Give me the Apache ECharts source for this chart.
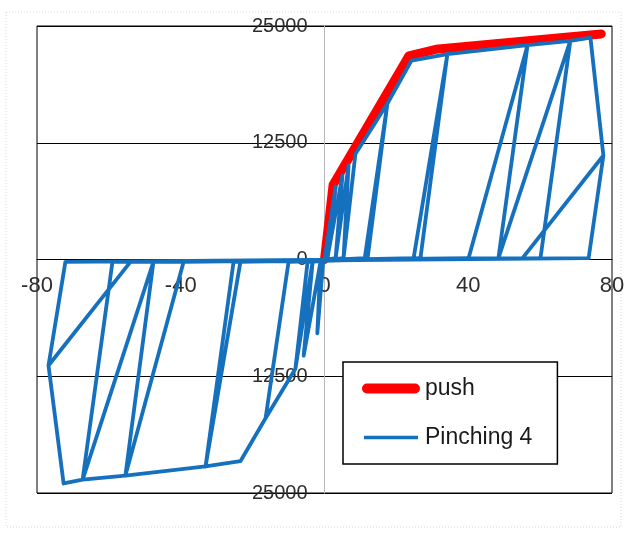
<!DOCTYPE html>
<html>
<head>
<meta charset="utf-8">
<script src="https://cdn.jsdelivr.net/npm/echarts@6/dist/echarts.min.js"></script>
<style>
html,body{margin:0;padding:0;background:#fff;}
#chart{width:627px;height:533px;}
</style>
</head>
<body>
<div id="chart"></div>
<script>
// ---- data ----
const xTicks = [-80, -40, 0, 40, 80];
const yTicks = [-25000, -12500, 0, 12500, 25000];
const seriesNames = ['push', 'Pinching 4'];

// monotonic push (backbone) curve
const pushX = [0, 2.4, 23.5, 31, 77];
const pushY = [0, 8000, 21800, 22500, 24150];

// cyclic response (Pinching4 model)
const pinchX = [
  0, 3.1, 0.8, -0.4, -2.0, -1.1,
  0.8, 5.0, 3.1, -1.1, -5.8, -3.3,
  3.1, 6.7, 5.3, -3.3, -8.1, -4.7,
  5.3, 8.6, 17.5, 12.0, -4.7, -8.1, -16.4, -10.0,
  12.0, 17.5, 11.2, -10.0, -16.4, -10.0,
  11.2, 17.5, 24.2, 34.2, 26.7, -10.0, -16.4, -23.4, -33.1, -25.3,
  24.8, 34.2, 26.7, -23.4, -33.1, -25.3,
  24.8, 34.2, 56.5, 48.4, -25.3, -33.1, -55.4, -47.6,
  40.1, 56.5, 48.4, -39.2, -55.4, -47.6,
  40.1, 56.5, 68.4, 60.1, -47.6, -55.4, -67.3, -59.0,
  48.4, 68.4, 60.1, -47.6, -67.3, -59.0,
  48.4, 68.4, 74.0, 77.6, 73.5, -47.6, -67.3, -72.6, -76.8, -72.1,
  55.1, 77.6, 73.5, -54.0, -76.8, -72.1
];
const pinchY = [
  0, 7800, 150, -250, -7900, -250,
  150, 9000, 150, -250, -10300, -250,
  150, 10100, 150, -250, -11700, -250,
  150, 11300, 16700, 150, -250, -11700, -17000, -250,
  150, 16700, 150, -250, -17000, -250,
  150, 16700, 21300, 22000, 150, -250, -17000, -21600, -22160, -250,
  150, 22000, 150, -250, -22160, -250,
  150, 22000, 22950, 150, -250, -22160, -23130, -250,
  150, 22950, 150, -250, -23130, -250,
  150, 22950, 23400, 150, -250, -23130, -23560, -250,
  150, 23400, 150, -250, -23560, -250,
  150, 23400, 23750, 11130, 150, -250, -23560, -23980, -11350, -250,
  150, 11130, 150, -250, -11350, -250
];

// ---- build ----
const zip = (xs, ys) => xs.map((x, i) => [x, ys[i]]);
const font = '"Liberation Sans", Arial, sans-serif';

const G = {left: 37, right: 15, top: 26, bottom: 40, w: 627, h: 533};
const plotW = G.w - G.left - G.right;
const plotH = G.h - G.top - G.bottom;
const xMin = xTicks[0], xMax = xTicks[xTicks.length - 1];
const yMin = yTicks[0], yMax = yTicks[yTicks.length - 1];
// axes cross at zero: shift them from the grid edge to the zero line
const yAxisOffset = -plotW * (0 - xMin) / (xMax - xMin);
const xAxisOffset = -plotH * (0 - yMin) / (yMax - yMin);

const chart = echarts.init(document.getElementById('chart'), null, {renderer: 'canvas'});
chart.setOption({
  animation: false,
  backgroundColor: '#fff',
  graphic: [{
    type: 'rect', silent: true, z: -10,
    shape: {x: 6, y: 12, width: 615, height: 515},
    style: {fill: null, stroke: '#d8d8d8', lineWidth: 1, lineDash: [1, 2]}
  }],
  grid: {
    left: G.left, right: G.right, top: G.top, bottom: G.bottom,
    outerBoundsMode: 'none', containLabel: false,
    show: true, borderColor: '#000', borderWidth: 1, backgroundColor: 'transparent'
  },
  xAxis: {
    type: 'value', min: xMin, max: xMax, interval: 40,
    position: 'bottom', offset: xAxisOffset,
    axisLine: {show: true, onZero: false, lineStyle: {color: '#000', width: 1}},
    axisTick: {show: false},
    splitLine: {show: false},
    axisLabel: {fontSize: 22, color: '#2e2e2e', fontFamily: font, margin: 15,
      showMinLabel: true, showMaxLabel: true}
  },
  yAxis: {
    type: 'value', min: yMin, max: yMax, interval: 12500,
    position: 'left', offset: yAxisOffset,
    axisLine: {show: true, onZero: false, lineStyle: {color: '#b8b8b8', width: 1}},
    axisTick: {show: false},
    splitLine: {show: true, lineStyle: {color: '#000', width: 1}},
    axisLabel: {fontSize: 20, color: '#2e2e2e', fontFamily: font, margin: 17,
      showMinLabel: true, showMaxLabel: true,
      formatter: v => String(Math.abs(v))}
  },
  legend: {
    orient: 'vertical', left: 343, top: 362,
    backgroundColor: '#fff', borderColor: '#000', borderWidth: 1.5,
    padding: [15, 25, 15, 19],
    itemWidth: 58, itemHeight: 10, itemGap: 26, itemTextGap: 3,
    textStyle: {fontSize: 23, color: '#1a1a1a', fontFamily: font},
    data: [
      {name: seriesNames[0], icon: 'path://M5,0 L53,0 A5,5 0 0 1 53,10 L5,10 A5,5 0 0 1 5,0 Z',
       itemStyle: {color: '#ff0000', opacity: 1}},
      {name: seriesNames[1], icon: 'path://M0,0 L0,0 M0,3.2 L54,3.2 L54,6.8 L0,6.8 Z M0,10 L0,10',
       itemStyle: {color: '#1570be', opacity: 1}}
    ]
  },
  series: [
    {
      name: seriesNames[0], type: 'line', data: zip(pushX, pushY),
      symbol: 'none', lineStyle: {color: '#ff0000', width: 9, cap: 'round', join: 'round'},
      itemStyle: {color: '#ff0000'}, z: 2
    },
    {
      name: seriesNames[1], type: 'line', data: zip(pinchX, pinchY),
      symbol: 'none', lineStyle: {color: '#1570be', width: 3.8, join: 'round'},
      itemStyle: {color: '#1570be'}, z: 3
    }
  ]
});
</script>
</body>
</html>
